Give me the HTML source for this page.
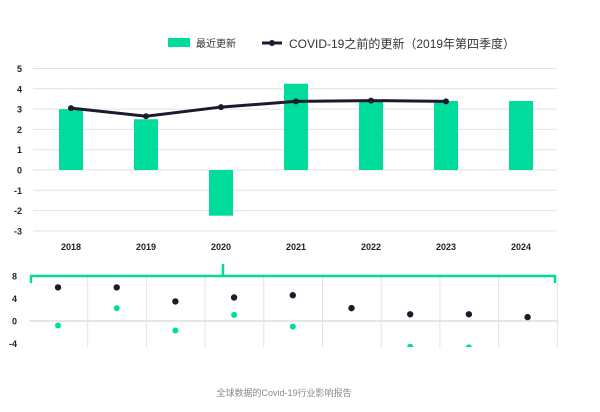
<!DOCTYPE html>
<html><head><meta charset="utf-8"><style>
html,body{margin:0;padding:0;background:#fff;width:600px;height:412px;overflow:hidden}
svg text{font-family:"Liberation Sans","Noto Sans CJK SC",sans-serif}
</style></head><body>
<svg id="c" width="600" height="412" xmlns="http://www.w3.org/2000/svg">
<g>
<rect x="168" y="38" width="22" height="9" fill="#00dc9b"/>
<text x="196" y="47" font-size="10" fill="#333">最近更新</text>
<line x1="262" y1="43" x2="282" y2="43" stroke="#1c1a2e" stroke-width="3"/>
<circle cx="272" cy="43" r="3" fill="#1c1a2e"/>
<text x="289" y="48" font-size="12" fill="#333">COVID-19之前的更新（2019年第四季度）</text>
</g>
<g id="main"></g>
<g id="lower"></g>
<text x="284" y="396" font-size="9" fill="#888" text-anchor="middle">全球数据的Covid-19行业影响报告</text>
</svg>
<script>
const years = ["2018","2019","2020","2021","2022","2023","2024"];
const recent = [3.0, 2.5, -2.25, 4.25, 3.45, 3.4, 3.4];
const preCovid = [3.05, 2.65, 3.1, 3.38, 3.42, 3.38];
const yTicks = [5,4,3,2,1,0,-1,-2,-3];
const lowerBlack = [6, 6, 3.5, 4.2, 4.6, 2.3, 1.2, 1.2, 0.7];
const lowerGreen = [-0.8, 2.3, -1.7, 1.1, -1.0, null, -4.6, -4.7, null];
const lowerTicks = [8,4,0,-4];

const NS="http://www.w3.org/2000/svg";
function mk(tag, attrs, parent){const e=document.createElementNS(NS,tag);for(const k in attrs)e.setAttribute(k,attrs[k]);parent.appendChild(e);return e;}
const main=document.getElementById('main'), lower=document.getElementById('lower');
const y=v=>170-v*20.3;
const x=i=>71+i*75;
yTicks.forEach(t=>{
  const l=mk('line',{x1:33,x2:557,y1:y(t),y2:y(t),stroke:'#e2e2e2','stroke-width':1},main);
  
  
  const tx=mk('text',{x:22,y:y(t)+3.5,'font-size':9,fill:'#222','font-weight':'bold','text-anchor':'end'},main);
  tx.textContent=t;
  
  
});
years.forEach((yr,i)=>{
  const tx=mk('text',{x:x(i),y:250,'font-size':9,fill:'#222','font-weight':'bold','text-anchor':'middle'},main);
  tx.textContent=yr;
  
  
});
recent.forEach((v,i)=>{
  const b=mk('rect',{x:x(i)-12,width:24,y:Math.min(y(v),y(0)),height:Math.abs(y(v)-y(0)),fill:'#00dc9b'},main);
  
  
});
const pts=preCovid.map((v,i)=>x(i)+','+y(v)).join(' ');
const pl=mk('polyline',{points:pts,fill:'none',stroke:'#1c1a2e','stroke-width':3},main);


preCovid.forEach((v,i)=>{
  const c=mk('circle',{cx:x(i),cy:y(v),r:3,fill:'#1c1a2e'},main);
  
  
});
const ly=v=>321-v*5.6;
const lx=i=>58+i*58.7;
const z=mk('line',{x1:29,x2:557,y1:ly(0),y2:ly(0),stroke:'#ddd','stroke-width':1.5},lower);


for(let k=1;k<=9;k++){
  const l=mk('line',{x1:29+k*58.7,x2:29+k*58.7,y1:277,y2:348,stroke:'#e2e2e2','stroke-width':1},lower);
  
  
}
lowerTicks.forEach(t=>{
  const tx=mk('text',{x:17,y:ly(t)+3.5,'font-size':9,fill:'#222','font-weight':'bold','text-anchor':'end'},lower);
  tx.textContent=t;
  
  
});
const br=mk('path',{d:'M31,283 L31,276 L223,276 L223,264 M223,276 L555,276 L555,283',fill:'none',stroke:'#00dc9b','stroke-width':2.5},lower);


lowerBlack.forEach((v,i)=>{
  const c=mk('circle',{cx:lx(i),cy:ly(v),r:3.2,fill:'#1c1a2e'},lower);
  
  
});
lowerGreen.forEach((v,i)=>{
  if(v===null)return;
  const c=mk('circle',{cx:lx(i),cy:ly(v),r:3,fill:'#00dc9b'},lower);
  
  
});
const cv=mk('rect',{x:0,y:347,width:600,height:20,fill:'#fff'},lower);


</script>
</body></html>
